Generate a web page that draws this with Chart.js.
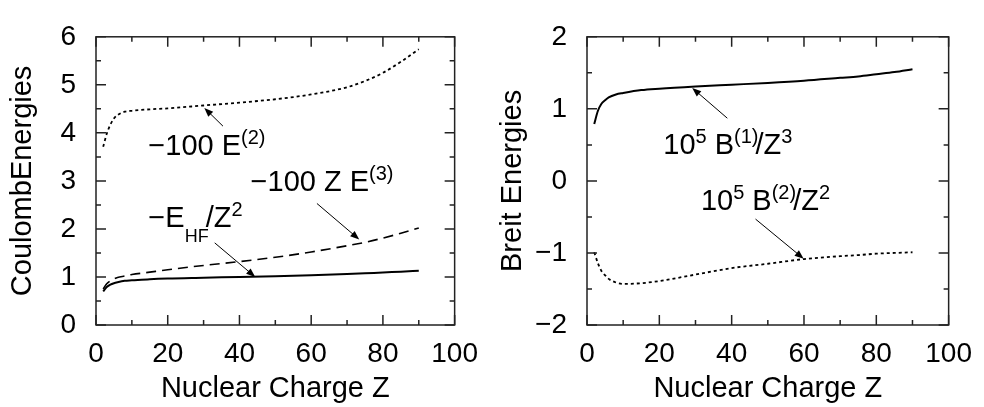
<!DOCTYPE html>
<html>
<head>
<meta charset="utf-8">
<script src="https://cdn.jsdelivr.net/npm/chart.js@4"></script>
<style>
  body { margin: 0; background: #fff; }
  #wrap { position: relative; width: 984px; height: 407px; }
  canvas { position: absolute; top: 0; }
</style>
</head>
<body>
<div id="wrap">
  <canvas id="coulombChart" width="490" height="407" style="left:0"></canvas>
  <canvas id="breitChart" width="494" height="407" style="left:490px"></canvas>
</div>
<script>
// values
const nuclearCharge = [2, 3, 4, 5, 6, 8, 10, 15, 20, 30, 40, 50, 60, 70, 75, 80, 85, 90];
const coulombE2   = [3.71, 3.98, 4.17, 4.30, 4.37, 4.44, 4.46, 4.49, 4.51, 4.57, 4.63, 4.70, 4.80, 4.95, 5.08, 5.25, 5.48, 5.74];
const coulombZE3  = [0.75, 0.86, 0.92, 0.96, 0.99, 1.02, 1.05, 1.10, 1.15, 1.24, 1.32, 1.41, 1.52, 1.65, 1.72, 1.81, 1.91, 2.02];
const hartreeFock = [0.70, 0.79, 0.84, 0.87, 0.89, 0.92, 0.93, 0.955, 0.97, 0.985, 1.00, 1.015, 1.035, 1.06, 1.075, 1.095, 1.11, 1.13];
const breitB1     = [0.79, 0.97, 1.07, 1.12, 1.16, 1.20, 1.22, 1.26, 1.28, 1.31, 1.335, 1.36, 1.39, 1.43, 1.45, 1.48, 1.51, 1.55];
const breitB2     = [-0.99, -1.14, -1.25, -1.31, -1.36, -1.41, -1.43, -1.42, -1.39, -1.30, -1.21, -1.15, -1.085, -1.045, -1.03, -1.01, -1.0, -0.99];

const xRange = [0, 100];
const coulombRange = [0, 6];
const breitRange = [-2, 2];

const FONT = 'Liberation Sans, Arial, Helvetica, sans-serif';

// curve labels with arrows, in data units
const coulombLabels = [
  { at: [14.6, 3.53], parts: [['\u2212100 E', ''], ['(2)', 'sup']], arrow: [[35.4, 4.14], [30.2, 4.52]] },
  { at: [43.1, 2.79], parts: [['\u2212100 Z E', ''], ['(3)', 'sup']], arrow: [[61.6, 2.53], [73.4, 1.78]] },
  { at: [14.6, 2.04], parts: [['\u2212E', ''], ['HF', 'sub'], ['/Z', ''], ['2', 'sup']], arrow: [[33.1, 1.71], [44.4, 1.00]] }
];
const breitLabels = [
  { at: [21.1, 0.38], parts: [['10', ''], ['5', 'sup'], [' B', ''], ['(1)', 'sup'], ['/Z', ''], ['3', 'sup']], arrow: [[38.8, 0.87], [29.1, 1.29]] },
  { at: [31.5, -0.40], parts: [['10', ''], ['5', 'sup'], [' B', ''], ['(2)', 'sup'], ['/Z', ''], ['2', 'sup']], arrow: [[46.6, -0.53], [59.9, -1.08]] }
];

function points(ys) {
  return nuclearCharge.map((z, i) => ({ x: z, y: ys[i] }));
}

// frame on all four sides with inward major and minor ticks
const framePlugin = {
  id: 'frame',
  afterDatasetsDraw(chart) {
    const { ctx, chartArea: a, scales: { x, y } } = chart;
    ctx.save();
    ctx.strokeStyle = '#222';
    ctx.lineWidth = 1.5;
    ctx.strokeRect(a.left, a.top, a.right - a.left, a.bottom - a.top);
    ctx.beginPath();
    const xv = x.ticks.map(t => t.value);
    const yv = y.ticks.map(t => t.value);
    const mark = (vals, fn) => {
      vals.forEach((v, i) => {
        fn(v, 10);
        if (i < vals.length - 1) fn((v + vals[i + 1]) / 2, 5);
      });
    };
    mark(xv, (v, len) => {
      const px = x.getPixelForValue(v);
      ctx.moveTo(px, a.bottom); ctx.lineTo(px, a.bottom - len);
      ctx.moveTo(px, a.top); ctx.lineTo(px, a.top + len);
    });
    mark(yv, (v, len) => {
      const py = y.getPixelForValue(v);
      ctx.moveTo(a.left, py); ctx.lineTo(a.left + len, py);
      ctx.moveTo(a.right, py); ctx.lineTo(a.right - len, py);
    });
    ctx.stroke();
    ctx.restore();
  }
};

const labelPlugin = {
  id: 'curveLabels',
  afterDraw(chart, args, opts) {
    const { ctx, scales: { x, y } } = chart;
    ctx.save();
    ctx.fillStyle = '#000';
    ctx.strokeStyle = '#000';
    ctx.textBaseline = 'alphabetic';
    ctx.textAlign = 'left';
    (opts.items || []).forEach(item => {
      let px = x.getPixelForValue(item.at[0]);
      const py = y.getPixelForValue(item.at[1]);
      item.parts.forEach(([txt, kind]) => {
        let size = 29, dy = 0, dx = 0;
        if (kind === 'sup') { size = 20; dy = -11; }
        if (kind === 'sub') { size = 18; dy = 15; }
        if (kind === '' && txt.startsWith('/')) dx = -3;
        ctx.font = size + 'px ' + FONT;
        ctx.fillText(txt, px + dx, py + dy);
        px += dx + ctx.measureText(txt).width;
      });
      // arrow
      const x0 = x.getPixelForValue(item.arrow[0][0]);
      const y0 = y.getPixelForValue(item.arrow[0][1]);
      const x1 = x.getPixelForValue(item.arrow[1][0]);
      const y1 = y.getPixelForValue(item.arrow[1][1]);
      const ang = Math.atan2(y1 - y0, x1 - x0);
      ctx.lineWidth = 1;
      ctx.beginPath();
      ctx.moveTo(x0, y0);
      ctx.lineTo(x1 - 6 * Math.cos(ang), y1 - 6 * Math.sin(ang));
      ctx.stroke();
      ctx.beginPath();
      ctx.moveTo(x1, y1);
      ctx.lineTo(x1 - 9 * Math.cos(ang) + 3.5 * Math.sin(ang), y1 - 9 * Math.sin(ang) - 3.5 * Math.cos(ang));
      ctx.lineTo(x1 - 9 * Math.cos(ang) - 3.5 * Math.sin(ang), y1 - 9 * Math.sin(ang) + 3.5 * Math.cos(ang));
      ctx.closePath();
      ctx.fill();
    });
    ctx.restore();
  }
};

function makeChart(id, datasets, yRange, yTitle, items, yWidth, rightPad) {
  const ctx = document.getElementById(id).getContext('2d');
  return new Chart(ctx, {
    type: 'line',
    data: { datasets: datasets },
    options: {
      responsive: false,
      animation: false,
      devicePixelRatio: 1,
      layout: { padding: { top: 21, right: rightPad, left: 0, bottom: 0 } },
      elements: { point: { radius: 0 }, line: { fill: false, cubicInterpolationMode: 'monotone' } },
      scales: {
        x: {
          type: 'linear',
          min: xRange[0],
          max: xRange[1],
          grid: { display: false, drawTicks: false },
          border: { display: false },
          ticks: { stepSize: 20, padding: 12, color: '#000', font: { family: FONT, size: 28 } },
          title: { display: true, text: 'Nuclear Charge Z', color: '#000', padding: { top: 0, bottom: 1 }, font: { family: FONT, size: 29 } },
          afterFit: s => { s.height = 82; }
        },
        y: {
          min: yRange[0],
          max: yRange[1],
          grid: { display: false, drawTicks: false },
          border: { display: false },
          ticks: {
            stepSize: 1, padding: 20, color: '#000', font: { family: FONT, size: 28 },
            callback: v => String(v).replace('-', '\u2212')
          },
          title: { display: true, text: yTitle, color: '#000', padding: { top: 6, bottom: 0 }, font: { family: FONT, size: 29 } },
          afterFit: s => { s.width = yWidth; }
        }
      },
      plugins: {
        legend: { display: false },
        tooltip: { enabled: false },
        curveLabels: { items: items }
      }
    },
    plugins: [framePlugin, labelPlugin]
  });
}

makeChart('coulombChart', [
  { label: '-100 E(2)', data: points(coulombE2), borderColor: '#000', borderWidth: 1.8, borderDash: [3, 3] },
  { label: '-100 Z E(3)', data: points(coulombZE3), borderColor: '#000', borderWidth: 1.6, borderDash: [10, 6] },
  { label: '-E_HF/Z^2', data: points(hartreeFock), borderColor: '#000', borderWidth: 2 }
], coulombRange, 'CoulombEnergies', coulombLabels, 96, 25);

makeChart('breitChart', [
  { label: '1e5 B(1)/Z^3', data: points(breitB1), borderColor: '#000', borderWidth: 2 },
  { label: '1e5 B(2)/Z^2', data: points(breitB2), borderColor: '#000', borderWidth: 1.8, borderDash: [3, 3] }
], breitRange, 'Breit Energies', breitLabels, 97, 28);
</script>
</body>
</html>
